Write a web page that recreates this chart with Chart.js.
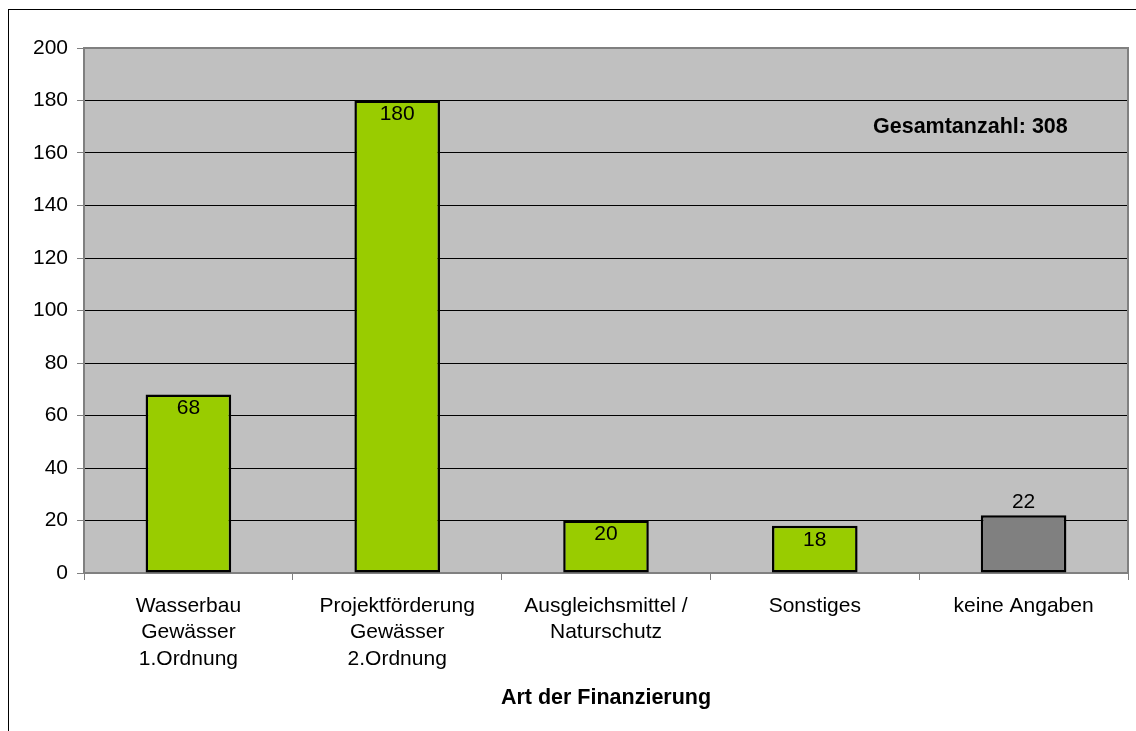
<!DOCTYPE html>
<html>
<head>
<meta charset="utf-8">
<script src="https://cdn.jsdelivr.net/npm/chart.js@4"></script>
<style>
  html, body { margin:0; padding:0; background:#fff; overflow:hidden; }
  #frame { position:absolute; left:8px; top:9px; width:1140px; height:740px; border:1px solid #000; box-sizing:border-box; }
  #wrap { position:absolute; left:0; top:0; width:1136px; height:731px; }
</style>
</head>
<body>
<div id="frame"></div>
<div id="wrap"><canvas id="chart"></canvas></div>
<script>
// data
const categories = [
  ['Wasserbau', 'Gewässer', '1.Ordnung'],
  ['Projektförderung', 'Gewässer', '2.Ordnung'],
  ['Ausgleichsmittel /', 'Naturschutz'],
  ['Sonstiges'],
  ['keine Angaben'],
];
const counts = [68, 180, 20, 18, 22];
const barColors = ['#99CC00', '#99CC00', '#99CC00', '#99CC00', '#808080'];
const yTicks = [0, 20, 40, 60, 80, 100, 120, 140, 160, 180, 200];
const xTitle = 'Art der Finanzierung';
const totalNote = 'Gesamtanzahl: 308';

const FONT = 'Arial, "Liberation Sans", sans-serif';

/* plot background + border, value labels, notes */
const plotDeco = {
  id: 'plotDeco',
  beforeDraw(chart) {
    const { ctx, chartArea: a } = chart;
    ctx.save();
    ctx.fillStyle = '#C0C0C0';
    ctx.fillRect(a.left, a.top, a.right - a.left, a.bottom - a.top);
    ctx.restore();
  },
  beforeDatasetsDraw(chart) {
    const { ctx, chartArea: a } = chart;
    ctx.save();
    ctx.strokeStyle = '#808080';
    ctx.lineWidth = 2;
    ctx.strokeRect(a.left, a.top, a.right - a.left, a.bottom - a.top);
    ctx.restore();
  },
  afterDatasetsDraw(chart) {
    const { ctx, chartArea: a } = chart;
    const meta = chart.getDatasetMeta(0);
    ctx.save();
    ctx.font = '21px ' + FONT;
    ctx.fillStyle = '#000';
    ctx.textAlign = 'center';
    ctx.textBaseline = 'middle';
    meta.data.forEach((bar, i) => {
      const inside = barColors[i] !== '#808080';
      ctx.fillText(String(counts[i]), bar.x, inside ? bar.y + 14 : bar.y - 13);
    });
    ctx.font = 'bold 21.5px ' + FONT;
    ctx.textAlign = 'left';
    ctx.fillText(totalNote, 873, 127);
    ctx.textAlign = 'center';
    ctx.fillText(xTitle, (a.left + a.right) / 2, 698);
    ctx.restore();
  }
};

new Chart(document.getElementById('chart'), {
  type: 'bar',
  data: {
    labels: categories,
    datasets: [{
      data: counts,
      backgroundColor: barColors,
      borderColor: '#000',
      borderWidth: 2.5,
      borderSkipped: false,
      barPercentage: 0.82,
      categoryPercentage: 0.5,
    }],
  },
  options: {
    responsive: true, maintainAspectRatio: false, animation: false,
    layout: { padding: { left: 0, top: 48, right: 8, bottom: 0 } },
    plugins: { legend: { display: false }, tooltip: { enabled: false } },
    scales: {
      x: {
        grid: { offset: true, drawOnChartArea: false, tickLength: 7, tickColor: '#808080', tickWidth: 1 },
        border: { display: false },
        ticks: { color: '#000', font: { size: 21, family: FONT, lineHeight: 1.26 }, padding: 13, maxRotation: 0, autoSkip: false },
        afterFit: s => { s.height = 158; },
      },
      y: {
        min: 0, max: 200,
        afterBuildTicks: s => { s.ticks = yTicks.map(v => ({ value: v })); },
        grid: {
          color: c => (c.tick.value === 0 || c.tick.value === 200) ? 'rgba(0,0,0,0)' : '#000',
          tickColor: '#808080', tickLength: 7, lineWidth: 1,
        },
        border: { display: false },
        ticks: { color: '#000', font: { size: 21, family: FONT }, padding: 9 },
        afterFit: s => { s.width = 84; },
      },
    },
  },
  plugins: [plotDeco],
});
</script>
</body>
</html>
